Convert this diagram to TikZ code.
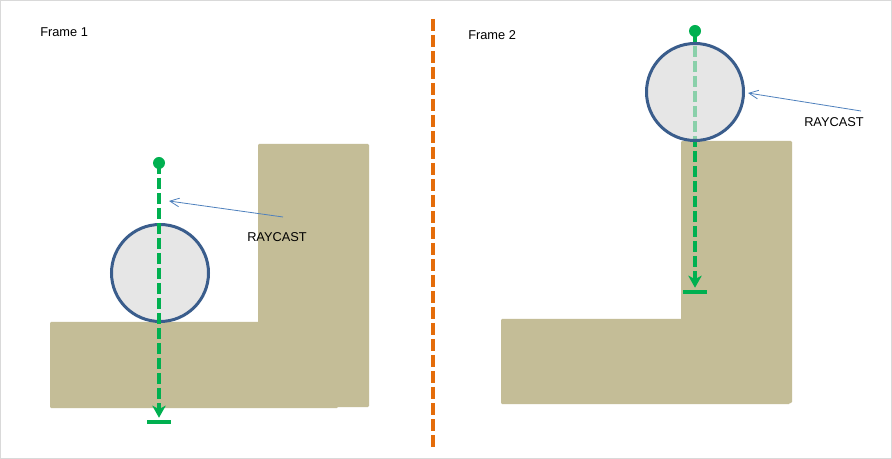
\documentclass[tikz,border=0pt]{standalone}
\usepackage{fontspec}
\setmainfont{Liberation Sans}
\usetikzlibrary{arrows.meta}
\definecolor{tan}{HTML}{C4BD97}
\definecolor{ballfill}{HTML}{E6E6E6}
\definecolor{ballline}{HTML}{3A5D8C}
\definecolor{raygreen}{HTML}{00B050}
\definecolor{divorange}{HTML}{E46C0A}
\definecolor{labelblue}{HTML}{4F81BD}
\definecolor{frameline}{HTML}{D9D9D9}
\tikzset{
  ground/.style={fill=tan, draw=none, rounded corners=0.8pt},
  ball/.style={circle, fill=ballfill, draw=ballline, line width=2.25pt, minimum size=72.75pt, inner sep=0pt},
  ballbase/.style={circle, fill=ballfill, draw=none, minimum size=72.75pt, inner sep=0pt},
  dotnode/.style={circle, fill=raygreen, draw=none, minimum size=9pt, inner sep=0pt},
  tbar/.style={rectangle, fill=raygreen, draw=none, minimum width=18pt, minimum height=3pt, inner sep=0pt},
  ray/.style={draw=raygreen, line width=3pt, dash pattern=on 8.25pt off 3pt,
    -{Stealth[length=9pt, width=10pt, inset=2.5pt]}, shorten >=1.5pt},
  pointer/.style={draw=labelblue, line width=0.6pt, -{Straight Barb[length=7pt, width=6.5pt]}},
  lbl/.style={font=\fontsize{9.6}{11}\selectfont, inner sep=0pt, text=black},
  divider/.style={draw=divorange, line width=3pt, dash pattern=on 9pt off 3pt}
}
\begin{document}
\begin{tikzpicture}[x=0.75pt, y=-0.75pt]
\useasboundingbox (0,0) rectangle (892,459);
\fill[white] (0,0) rectangle (892,459);
\draw[frameline, line width=0.9pt] (0.8,0.8) rectangle (891.2,458.2);

% ---------- Frame 1 ----------
\node[lbl, anchor=west] (f1) at (40,32.5) {Frame 1};
\fill[ground] (258,144) rectangle (369,407);
\fill[ground] (50,322) rectangle (338,408);
\node[ball] (c1) at (160,273) {};
\coordinate (p1) at (159,163);
\node[tbar] (b1) at (159,422) {};
\draw[ray] (p1) -- (b1.north);
\node[dotnode] (d1) at (p1) {};
\node[lbl] (r1) at (277,237.5) {RAYCAST};
\coordinate (s1) at (283,217);
\coordinate (e1) at (169,201);
\draw[pointer] (s1) -- (e1);

% ---------- divider ----------
\coordinate (dvt) at (433,19);
\coordinate (dvb) at (433,447);
\draw[divider] (dvt) -- (dvb);

% ---------- Frame 2 ----------
\node[lbl, anchor=west] (f2) at (468,35) {Frame 2};
\fill[ground] (681,141) rectangle (792,403);
\fill[ground] (501,319) rectangle (790,404);
\coordinate (p2) at (695,31);
\node[ballbase] (c2base) at (695,92) {};
\node[tbar] (b2) at (695,292) {};
\draw[ray] (p2) -- (b2.north);
\node[ball, fill opacity=0.6, draw opacity=1] (c2) at (695,92) {};
\node[dotnode] (d2) at (p2) {};
\node[lbl] (r2) at (834,122.5) {RAYCAST};
\coordinate (s2) at (861,111);
\coordinate (e2) at (748,93);
\draw[pointer] (s2) -- (e2);
\end{tikzpicture}
\end{document}
